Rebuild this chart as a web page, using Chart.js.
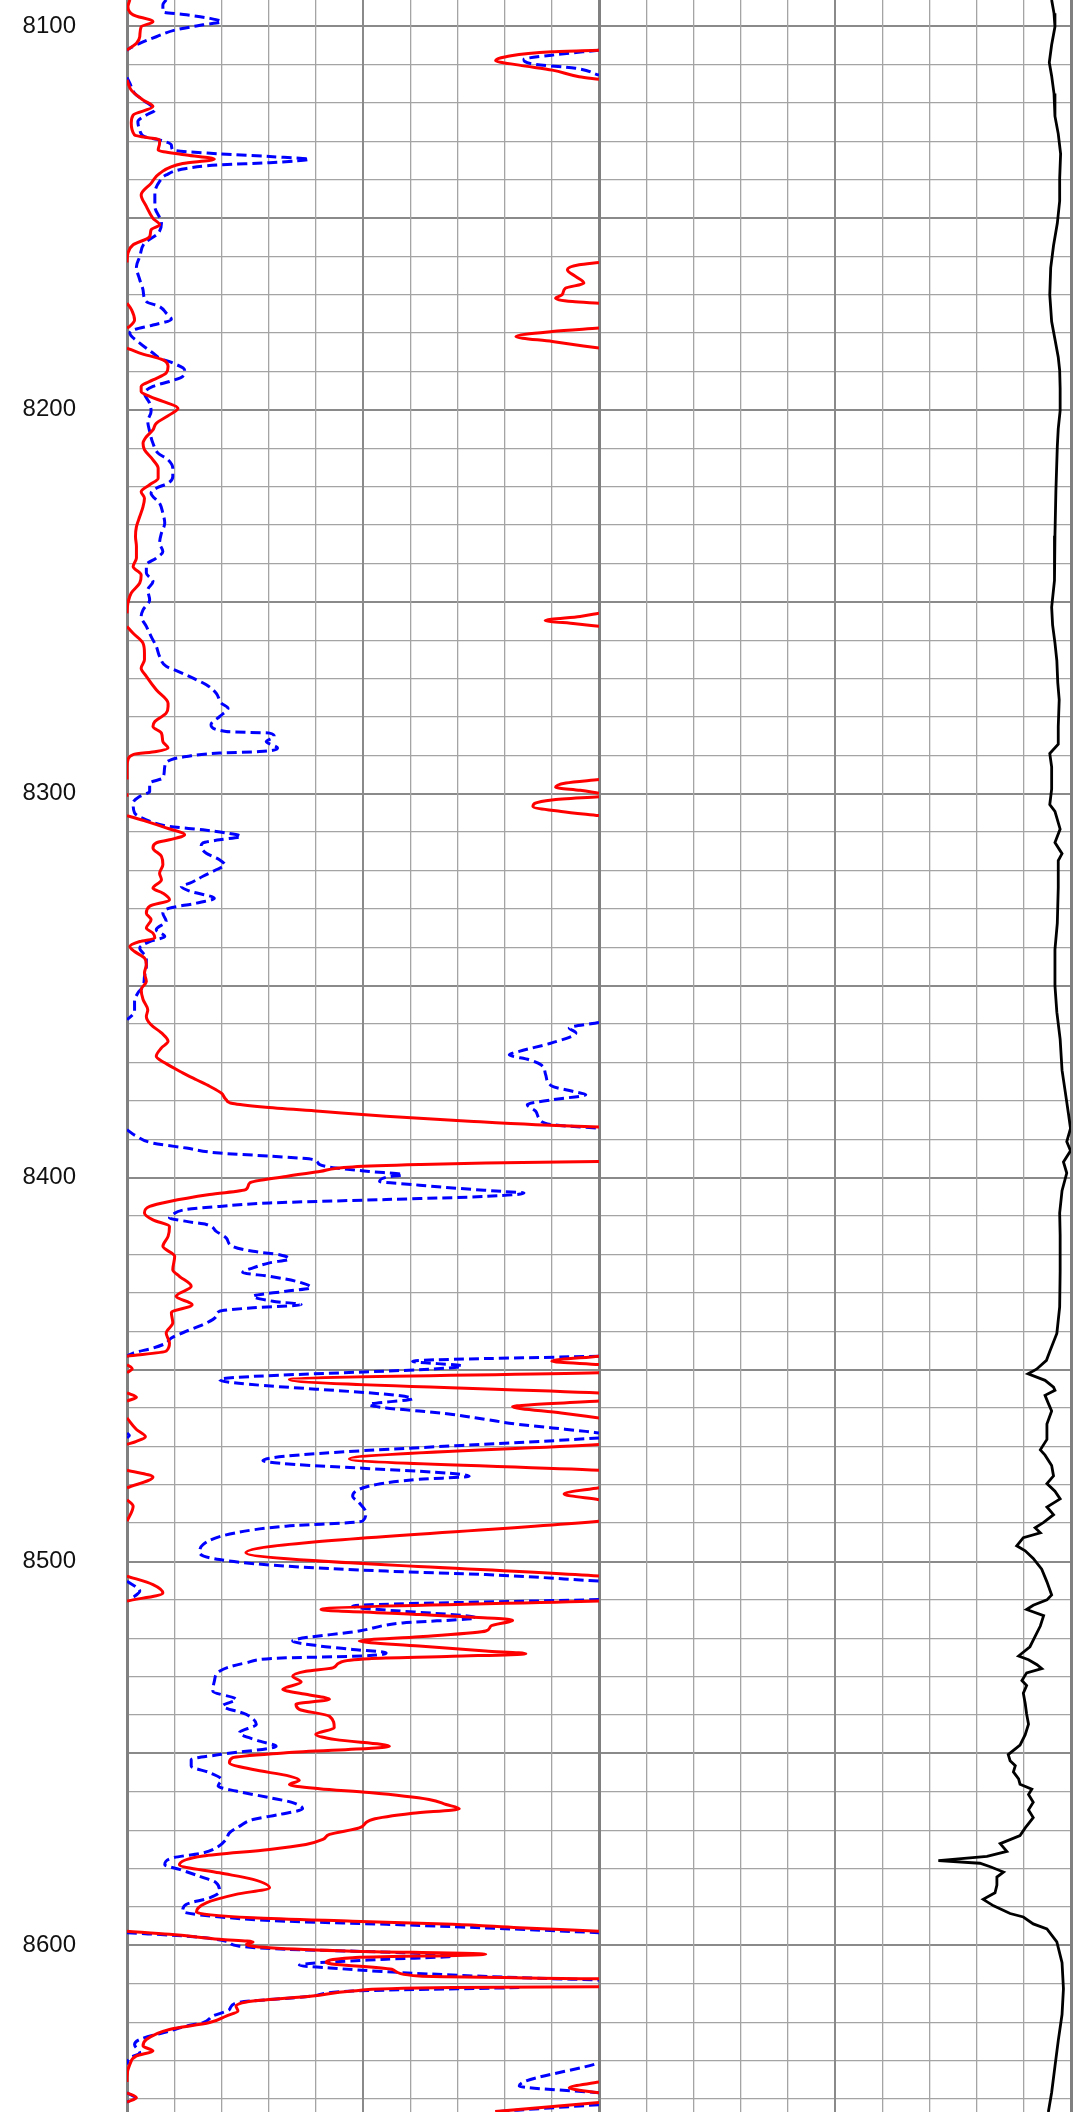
<!DOCTYPE html>
<html>
<head>
<meta charset="utf-8">
<title>Registro de pozo</title>
<script src="https://cdn.jsdelivr.net/npm/chart.js@4.4.0/dist/chart.umd.min.js"></script>
<style>
  html, body { margin: 0; padding: 0; background: #ffffff; }
  #registro { display: block; }
</style>
</head>
<body>
<canvas id="registro" width="1087" height="2112"></canvas>
<script>
// ============================================================
// Registro de pozo: profundidad vertical, dos pistas
// - Pista 1: curva roja (sólida) + curva azul (punteada), con retorno
// - Pista 2: curva negra
// Valores en divisiones de la pista (0-10). null = corte de la línea
// ============================================================

// ===== Eje de profundidad =====
const PROF_TOPE = 8093.23;
const PROF_BASE = 8643.4; // no múltiplo exacto del paso: así los ticks caen en 8100, 8110...
const PASO_PROF = 10;
const etiquetasProf = [8100, 8200, 8300, 8400, 8500, 8600];

// ===== Escala de las pistas =====
const PISTA_MIN = 0;
const PISTA_MAX = 10;

// ===== Curva roja (pista 1) [profundidad, valor] =====
const curvaRoja = [
  [8093.2, 0.06], [8095.0, 0.02], [8097.1, 0.13], [8098.9, 0.55], [8100.2, 0.30],
  [8102.8, 0.27], [8104.5, 0.20], [8106.3, 0.00], [8106.3, null],
  [8106.3, 10.0], [8106.7, 9.01], [8108.0, 8.03], [8109.0, 7.81], [8110.2, 8.31],
  [8111.5, 9.01], [8113.2, 9.58], [8113.9, 10.0], [8113.9, null],
  [8114.0, 0.00], [8116.7, 0.09], [8119.3, 0.34], [8121.0, 0.55], [8123.2, 0.13],
  [8125.3, 0.09], [8128.4, 0.16], [8129.7, 0.69], [8130.6, 0.69], [8132.3, 0.66],
  [8133.6, 1.26], [8134.7, 1.85], [8135.8, 1.18], [8138.4, 0.69], [8141.0, 0.51],
  [8144.0, 0.30], [8147.0, 0.41], [8150.1, 0.55], [8151.8, 0.69], [8153.1, 0.51],
  [8154.9, 0.48], [8157.0, 0.13], [8159.2, 0.02], [8161.6, 0.00], [8161.6, null],
  [8161.6, 10.0], [8162.2, 9.58], [8163.5, 9.33], [8165.3, 9.51], [8167.0, 9.68],
  [8168.3, 9.29], [8170.0, 9.22], [8170.9, 9.08], [8171.8, 9.44], [8172.2, 10.0], [8172.2, null],
  [8172.2, 0.00], [8174.0, 0.10], [8176.6, 0.16], [8178.3, 0.05], [8178.7, 0.00], [8178.7, null],
  [8178.7, 10.0], [8179.6, 9.01], [8180.9, 8.24], [8182.2, 9.01], [8183.9, 10.0], [8183.9, null],
  [8183.9, 0.00], [8185.2, 0.27], [8187.0, 0.76], [8188.7, 0.87], [8190.4, 0.83],
  [8192.2, 0.55], [8193.9, 0.30], [8195.2, 0.30], [8196.5, 0.48], [8197.8, 0.76],
  [8199.6, 1.08], [8201.3, 0.90], [8203.5, 0.62], [8205.2, 0.55], [8207.0, 0.41],
  [8208.7, 0.34], [8210.4, 0.37], [8213.0, 0.55], [8215.2, 0.66], [8217.8, 0.66],
  [8219.5, 0.48], [8221.3, 0.30], [8223.0, 0.37], [8225.2, 0.34], [8227.8, 0.27],
  [8230.4, 0.20], [8233.0, 0.18], [8235.6, 0.20], [8238.6, 0.20], [8240.8, 0.13],
  [8243.0, 0.30], [8245.1, 0.27], [8247.7, 0.09], [8250.3, 0.02], [8253.0, 0.00], [8253.0, null],
  [8253.0, 10.0], [8253.8, 9.60], [8254.9, 8.86], [8255.7, 9.50], [8256.4, 10.0], [8256.4, null],
  [8256.4, 0.00], [8258.2, 0.13], [8260.8, 0.34], [8263.4, 0.37], [8265.1, 0.37],
  [8267.3, 0.30], [8269.4, 0.41], [8272.9, 0.62], [8276.4, 0.87], [8277.3, 0.87],
  [8279.0, 0.83], [8281.2, 0.59], [8282.5, 0.55], [8284.2, 0.73], [8286.4, 0.76],
  [8288.1, 0.87], [8289.0, 0.62], [8289.8, 0.13], [8291.2, 0.02], [8292.9, 0.00],
  [8296.3, 0.00], [8296.3, null],
  [8296.3, 10.0], [8297.2, 9.30], [8298.3, 9.08], [8299.1, 9.60], [8299.9, 10.0], [8299.9, null],
  [8299.9, 0.00], [8300.8, 0.00], [8300.8, null],
  [8300.8, 10.0], [8301.6, 9.00], [8303.3, 8.60], [8304.6, 9.20], [8305.7, 10.0], [8305.7, null],
  [8305.7, 0.00], [8307.2, 0.41], [8308.9, 0.83], [8310.7, 1.22], [8312.0, 0.90],
  [8312.8, 0.62], [8314.1, 0.55], [8316.3, 0.73], [8318.5, 0.76], [8320.7, 0.69],
  [8322.4, 0.73], [8324.6, 0.55], [8325.9, 0.76], [8327.6, 0.90], [8329.3, 0.48],
  [8331.1, 0.41], [8332.8, 0.51], [8335.0, 0.41], [8336.3, 0.55], [8337.6, 0.59],
  [8338.5, 0.27], [8339.8, 0.06], [8341.1, 0.16], [8342.8, 0.37], [8344.5, 0.41],
  [8346.7, 0.37], [8348.9, 0.41], [8351.0, 0.30], [8353.6, 0.34], [8356.3, 0.44],
  [8358.0, 0.41], [8360.2, 0.51], [8362.3, 0.73], [8364.5, 0.87], [8366.2, 0.73],
  [8368.4, 0.62], [8370.1, 0.80], [8372.7, 1.18], [8374.5, 1.47], [8376.2, 1.75],
  [8378.0, 2.00], [8379.7, 2.10], [8380.7, 2.24], [8381.6, 2.88], [8382.7, 4.08],
  [8384.0, 5.49], [8385.3, 7.25], [8386.2, 8.66], [8386.8, 10.0], [8386.8, null],
  [8395.8, 10.0], [8396.2, 7.60], [8396.6, 6.19], [8397.2, 4.78], [8398.4, 4.08],
  [8399.7, 3.37], [8401.4, 2.60], [8403.1, 2.52], [8404.4, 1.75], [8406.2, 0.90],
  [8407.5, 0.48], [8409.2, 0.37], [8411.0, 0.55], [8412.7, 0.90], [8415.3, 0.87],
  [8417.9, 0.76], [8420.5, 1.01], [8424.0, 0.97], [8425.7, 1.11], [8428.3, 1.36],
  [8430.9, 1.04], [8433.1, 1.38], [8435.2, 0.94], [8437.8, 0.97], [8440.5, 0.83],
  [8443.1, 0.90], [8445.2, 0.83], [8446.5, 0.00], [8446.5, null],
  [8446.5, 10.0], [8447.8, 9.00], [8448.7, 10.0], [8448.7, null],
  [8448.7, 0.00], [8449.8, 0.11], [8450.8, 0.00], [8450.8, null],
  [8450.8, 10.0], [8452.6, 3.44], [8456.1, 10.0], [8456.1, null],
  [8456.1, 0.00], [8457.2, 0.20], [8458.2, 0.00], [8458.2, null],
  [8458.2, 10.0], [8459.7, 8.17], [8461.3, 9.20], [8462.6, 10.0], [8462.6, null],
  [8462.6, 0.00], [8465.6, 0.20], [8467.5, 0.39], [8468.7, 0.20], [8469.5, 0.00], [8469.5, null],
  [8469.5, 10.0], [8473.3, 4.71], [8476.2, 10.0], [8476.2, null],
  [8476.2, 0.00], [8478.0, 0.55], [8480.8, 0.00], [8480.8, null],
  [8480.8, 10.0], [8482.4, 9.26], [8483.9, 10.0], [8483.9, null],
  [8483.9, 0.00], [8485.6, 0.13], [8489.5, 0.00], [8489.5, null],
  [8489.5, 10.0], [8497.7, 2.52], [8503.8, 10.0], [8503.8, null],
  [8503.8, 0.00], [8506.0, 0.55], [8508.2, 0.76], [8510.3, 0.00], [8510.3, null],
  [8510.3, 10.0], [8512.5, 4.11], [8513.8, 6.19], [8515.3, 8.17], [8516.8, 7.71],
  [8518.1, 7.60], [8519.6, 6.19], [8520.7, 4.92], [8522.0, 6.19], [8523.3, 7.60],
  [8524.0, 8.45], [8524.7, 6.90], [8525.3, 5.13], [8526.4, 4.50], [8527.7, 4.36],
  [8528.6, 3.79], [8529.9, 3.51], [8531.4, 3.69], [8533.3, 3.30], [8534.6, 3.79],
  [8535.9, 4.29], [8537.2, 3.58], [8538.5, 3.65], [8540.3, 4.29], [8543.3, 4.39],
  [8545.0, 4.00], [8546.4, 4.43], [8548.1, 5.56], [8549.8, 3.37], [8551.1, 2.24],
  [8552.4, 2.17], [8554.2, 2.67], [8555.9, 3.44], [8557.0, 3.65], [8558.1, 3.44],
  [8559.2, 4.08], [8560.2, 5.13], [8562.0, 6.40], [8563.3, 6.76], [8564.4, 7.04],
  [8565.6, 6.05], [8567.2, 5.20], [8569.4, 4.92], [8571.1, 4.29], [8572.4, 4.15],
  [8573.7, 3.79], [8575.0, 3.02], [8576.7, 1.61], [8579.0, 1.11], [8581.1, 1.96],
  [8582.8, 2.67], [8585.0, 3.02], [8586.7, 2.31], [8588.9, 1.68], [8591.3, 1.47],
  [8592.8, 2.67], [8593.7, 4.78], [8594.5, 6.90], [8595.4, 8.31], [8596.3, 10.0], [8596.3, null],
  [8596.3, 0.00], [8597.1, 0.90], [8598.4, 1.96], [8599.1, 2.67], [8599.7, 2.53],
  [8600.6, 3.02], [8601.5, 4.78], [8602.3, 7.60], [8603.2, 4.78], [8604.5, 4.22],
  [8606.3, 5.63], [8608.0, 6.19], [8608.7, 10.0], [8608.7, null],
  [8610.8, 10.0], [8611.0, 6.90], [8611.9, 4.78], [8613.2, 3.93], [8614.5, 2.67],
  [8615.8, 2.31], [8617.1, 2.35], [8618.4, 2.10], [8620.1, 1.75], [8621.9, 0.90],
  [8624.5, 0.41], [8626.2, 0.34], [8627.5, 0.55], [8628.8, 0.20], [8631.0, 0.06],
  [8634.5, 0.00], [8635.6, 0.00], [8635.6, null],
  [8635.6, 10.0], [8637.1, 9.37], [8638.4, 10.0], [8638.4, null],
  [8638.4, 0.00], [8639.7, 0.20], [8640.8, 0.00], [8640.8, null],
  [8640.9, 10.0], [8643.3, 7.80]
];

// ===== Curva azul punteada (pista 1) [profundidad, valor] =====
const curvaAzul = [
  [8093.2, 0.83], [8094.5, 0.76], [8096.3, 0.76], [8097.1, 1.26], [8098.0, 1.75],
  [8098.9, 2.00], [8099.7, 1.61], [8101.0, 1.04], [8102.8, 0.62], [8104.5, 0.27],
  [8105.8, 0.06], [8106.3, 0.00], [8106.3, null],
  [8106.3, 10.0], [8107.6, 9.00], [8108.7, 8.41], [8109.9, 8.60], [8111.0, 9.50],
  [8112.8, 10.0], [8112.8, null],
  [8113.4, 0.00], [8114.9, 0.06], [8117.5, 0.16], [8119.3, 0.34], [8121.9, 0.59],
  [8123.2, 0.41], [8124.9, 0.23], [8127.1, 0.27], [8128.8, 0.37], [8129.7, 0.69],
  [8131.0, 0.94], [8132.3, 0.97], [8133.3, 1.96], [8134.0, 3.02], [8134.7, 3.86],
  [8135.6, 3.02], [8136.2, 1.96], [8137.1, 1.26], [8138.8, 0.83], [8140.5, 0.69],
  [8143.6, 0.59], [8147.0, 0.59], [8151.4, 0.73], [8154.0, 0.66], [8156.6, 0.37],
  [8160.1, 0.27], [8162.7, 0.20], [8166.1, 0.27], [8168.8, 0.34], [8171.8, 0.41],
  [8173.1, 0.69], [8174.8, 0.83], [8176.4, 0.94], [8177.9, 0.55], [8179.2, 0.13],
  [8180.0, 0.06], [8182.6, 0.27], [8185.2, 0.55], [8186.5, 0.69], [8187.8, 0.97],
  [8189.6, 1.22], [8191.3, 1.18], [8192.6, 0.90], [8193.9, 0.55], [8195.7, 0.37],
  [8198.3, 0.48], [8200.4, 0.51], [8203.0, 0.44], [8205.6, 0.48], [8208.7, 0.55],
  [8211.3, 0.66], [8213.0, 0.87], [8215.2, 0.97], [8217.4, 0.97], [8219.1, 0.87],
  [8220.4, 0.62], [8221.7, 0.51], [8224.3, 0.69], [8226.9, 0.76], [8229.5, 0.80],
  [8232.1, 0.73], [8234.7, 0.69], [8236.9, 0.76], [8238.6, 0.62], [8240.4, 0.41],
  [8242.5, 0.41], [8244.7, 0.55], [8246.9, 0.44], [8249.5, 0.48], [8252.1, 0.34],
  [8253.8, 0.30], [8256.4, 0.41], [8259.0, 0.51], [8261.6, 0.62], [8264.2, 0.69],
  [8266.8, 0.83], [8268.1, 1.08], [8269.9, 1.40], [8271.6, 1.68], [8273.8, 1.89],
  [8276.4, 2.00], [8277.7, 2.14], [8279.9, 1.96], [8282.0, 1.78], [8283.8, 2.10],
  [8284.2, 3.02], [8285.1, 3.12], [8286.4, 2.95], [8288.1, 3.19], [8289.0, 2.81],
  [8289.4, 1.96], [8290.3, 1.26], [8291.1, 0.94], [8292.9, 0.80], [8295.9, 0.76],
  [8297.2, 0.48], [8299.4, 0.48], [8300.7, 0.27], [8302.4, 0.13], [8305.0, 0.16],
  [8306.8, 0.41], [8308.5, 0.90], [8309.4, 1.61], [8310.2, 2.10], [8311.1, 2.42],
  [8312.0, 1.96], [8312.8, 1.61], [8313.7, 1.57], [8315.5, 1.68], [8317.2, 1.96],
  [8318.5, 2.07], [8319.8, 1.89], [8321.5, 1.61], [8323.3, 1.33], [8324.1, 1.15],
  [8325.4, 1.33], [8327.2, 1.85], [8328.5, 1.47], [8329.8, 0.90], [8331.1, 0.76],
  [8333.2, 0.83], [8335.4, 0.62], [8337.2, 0.80], [8338.5, 0.48], [8340.2, 0.27],
  [8342.8, 0.41], [8345.0, 0.41], [8347.6, 0.37], [8350.2, 0.34], [8351.9, 0.23],
  [8354.1, 0.16], [8356.7, 0.16], [8358.9, 0.00], [8358.9, null],
  [8359.6, 10.0], [8361.0, 9.37], [8362.3, 9.51], [8364.9, 9.00], [8367.1, 8.31],
  [8368.0, 8.10], [8369.3, 8.52], [8370.6, 8.77], [8373.2, 8.87], [8376.2, 9.01],
  [8377.5, 9.44], [8378.4, 9.72], [8379.7, 9.01], [8381.0, 8.48], [8382.7, 8.66],
  [8384.5, 8.73], [8386.2, 9.01], [8387.1, 10.0], [8387.1, null],
  [8387.5, 0.00], [8389.2, 0.20], [8391.0, 0.55], [8392.3, 1.26], [8393.6, 1.96],
  [8394.4, 3.02], [8395.3, 3.94], [8396.6, 4.08], [8397.5, 4.43], [8398.4, 5.13],
  [8399.2, 5.84], [8399.9, 5.49], [8401.0, 5.35], [8401.8, 6.05], [8402.7, 6.90],
  [8403.6, 7.95], [8404.0, 8.41], [8404.9, 7.60], [8405.7, 5.49], [8406.6, 3.02],
  [8407.5, 1.96], [8408.3, 1.26], [8409.6, 0.97], [8410.5, 0.90], [8411.4, 1.26],
  [8412.2, 1.68], [8414.0, 1.89], [8415.7, 2.10], [8417.9, 2.24], [8419.2, 2.67],
  [8420.1, 3.23], [8421.2, 3.44], [8422.2, 3.02], [8423.5, 2.67], [8424.7, 2.45],
  [8425.7, 3.02], [8427.0, 3.58], [8428.7, 3.90], [8429.6, 3.37], [8430.9, 2.67],
  [8432.2, 3.09], [8433.1, 3.69], [8433.9, 2.67], [8434.8, 1.96], [8436.1, 1.89],
  [8438.3, 1.61], [8440.0, 1.26], [8441.8, 0.94], [8443.1, 0.83], [8444.4, 0.55],
  [8445.7, 0.13], [8446.5, 0.00], [8446.5, null],
  [8446.5, 10.0], [8447.8, 6.05], [8449.1, 7.10], [8452.6, 1.96], [8457.6, 6.05],
  [8459.1, 5.13], [8460.0, 5.49], [8460.8, 6.19], [8461.7, 6.90], [8463.0, 7.60],
  [8464.3, 8.31], [8465.2, 9.01], [8466.1, 9.72], [8466.5, 10.0], [8466.5, null],
  [8466.5, 0.00], [8467.2, 0.05], [8467.8, 0.00], [8467.8, null],
  [8467.8, 10.0], [8473.7, 2.88], [8477.8, 7.25], [8478.6, 6.19], [8479.9, 5.30],
  [8483.0, 4.78], [8484.7, 4.92], [8487.3, 5.06], [8489.5, 4.99], [8490.8, 3.37],
  [8492.5, 2.31], [8495.6, 1.61], [8497.7, 1.54], [8499.5, 1.96], [8501.2, 3.37],
  [8502.5, 5.49], [8503.4, 7.60], [8505.1, 10.0], [8505.1, null],
  [8505.1, 0.00], [8507.7, 0.27], [8509.9, 0.06], [8509.9, null],
  [8509.9, 10.0], [8511.6, 4.78], [8514.7, 7.39], [8516.0, 5.84], [8518.1, 4.92],
  [8520.7, 3.51], [8522.0, 4.08], [8522.9, 4.78], [8523.8, 5.49], [8524.7, 4.78],
  [8525.1, 3.37], [8526.4, 2.52], [8528.6, 1.96], [8531.2, 1.85], [8533.8, 1.82],
  [8535.9, 2.31], [8537.6, 2.03], [8539.8, 2.52], [8542.4, 2.74], [8544.6, 2.38],
  [8546.8, 2.81], [8548.1, 3.16], [8550.3, 1.96], [8551.6, 1.36], [8553.3, 1.36],
  [8555.0, 1.75], [8556.8, 2.00], [8558.5, 1.93], [8559.8, 2.31], [8561.5, 3.02],
  [8562.8, 3.51], [8564.4, 3.72], [8565.9, 3.23], [8567.2, 2.67], [8569.0, 2.38],
  [8570.7, 2.17], [8572.4, 2.10], [8574.6, 1.89], [8575.9, 1.61], [8577.2, 0.97],
  [8579.0, 0.80], [8580.2, 1.11], [8582.0, 1.54], [8583.7, 1.89], [8585.9, 1.96],
  [8587.6, 1.75], [8589.3, 1.26], [8591.1, 1.18], [8592.4, 1.82], [8593.7, 3.37],
  [8594.5, 5.49], [8595.8, 8.31], [8596.7, 10.0], [8596.7, null],
  [8596.7, 0.00], [8597.6, 1.26], [8598.9, 2.10], [8600.2, 2.38], [8601.0, 3.37],
  [8601.9, 5.84], [8602.8, 6.90], [8603.6, 5.49], [8604.5, 4.08], [8605.2, 3.65],
  [8605.8, 4.22], [8607.1, 5.84], [8608.4, 8.31], [8609.0, 10.0], [8609.0, null],
  [8611.0, 8.31], [8611.9, 4.78], [8613.2, 3.93], [8615.0, 2.31], [8616.7, 2.17],
  [8618.4, 1.82], [8620.1, 1.61], [8621.0, 1.26], [8622.3, 0.90], [8624.5, 0.27],
  [8625.8, 0.16], [8628.0, 0.27], [8629.3, 0.06], [8631.0, 0.00], [8631.0, null],
  [8631.0, 9.90], [8636.6, 8.31], [8638.4, 10.0], [8638.4, null],
  [8638.4, 0.00], [8639.7, 0.16], [8640.8, 0.00], [8640.8, null],
  [8641.5, 10.0], [8643.3, 7.81]
];

// ===== Curva negra (pista 2) [profundidad, valor] =====
const curvaNegra = [
  [8093.2, 9.59], [8096.7, 9.64], [8100.2, 9.66], [8104.9, 9.59], [8109.5, 9.54],
  [8113.0, 9.59], [8117.6, 9.64], [8123.5, 9.66], [8128.1, 9.73], [8133.3, 9.78],
  [8139.7, 9.76], [8145.6, 9.76], [8151.4, 9.71], [8157.2, 9.63], [8163.0, 9.57],
  [8170.0, 9.55], [8177.0, 9.59], [8181.6, 9.66], [8186.3, 9.73], [8189.7, 9.76],
  [8194.4, 9.77], [8200.2, 9.77], [8204.9, 9.73], [8209.5, 9.71], [8221.1, 9.68],
  [8232.8, 9.66], [8244.4, 9.65], [8251.4, 9.59], [8256.0, 9.61], [8260.7, 9.66],
  [8265.3, 9.70], [8271.1, 9.72], [8275.5, 9.75], [8282.5, 9.73], [8287.1, 9.73],
  [8289.5, 9.55], [8293.0, 9.59], [8298.8, 9.59], [8302.8, 9.55], [8304.6, 9.66],
  [8309.2, 9.77], [8312.7, 9.66], [8315.6, 9.81], [8317.4, 9.73], [8324.4, 9.73],
  [8333.7, 9.71], [8340.6, 9.66], [8350.0, 9.66], [8356.9, 9.70], [8363.9, 9.77],
  [8372.0, 9.81], [8377.8, 9.88], [8383.7, 9.95], [8387.2, 9.99], [8390.6, 9.91],
  [8393.0, 9.99], [8395.9, 9.84], [8398.8, 9.91], [8403.4, 9.81], [8409.2, 9.76],
  [8415.0, 9.77], [8424.4, 9.77], [8433.7, 9.76], [8440.6, 9.70], [8445.3, 9.55],
  [8447.6, 9.48], [8449.9, 9.27], [8451.1, 9.09], [8452.8, 9.45], [8454.6, 9.63],
  [8455.4, 9.66], [8456.7, 9.45], [8458.8, 9.52], [8460.8, 9.59], [8464.2, 9.49],
  [8468.2, 9.49], [8470.9, 9.35], [8472.3, 9.45], [8475.0, 9.59], [8477.7, 9.63],
  [8479.7, 9.49], [8481.7, 9.66], [8483.7, 9.77], [8485.8, 9.49], [8487.8, 9.63],
  [8489.8, 9.42], [8491.2, 9.24], [8492.5, 9.35], [8493.8, 8.99], [8495.9, 8.85],
  [8497.2, 9.03], [8499.2, 9.20], [8502.0, 9.38], [8505.3, 9.49], [8508.7, 9.59],
  [8510.0, 9.49], [8511.4, 9.20], [8512.5, 9.06], [8514.1, 9.42], [8516.8, 9.35],
  [8519.5, 9.24], [8522.2, 9.13], [8524.6, 8.89], [8525.6, 9.10], [8526.9, 9.28],
  [8527.9, 9.38], [8529.0, 9.06], [8531.0, 8.96], [8532.3, 9.06], [8534.3, 8.99],
  [8537.0, 9.03], [8539.7, 9.06], [8542.4, 9.10], [8545.1, 9.03], [8547.8, 8.92],
  [8550.3, 8.67], [8551.9, 8.71], [8553.2, 8.82], [8554.8, 8.78], [8556.6, 8.89],
  [8558.0, 8.92], [8559.3, 9.17], [8560.7, 9.10], [8562.7, 9.20], [8564.7, 9.10],
  [8566.7, 9.20], [8569.4, 9.03], [8571.4, 8.92], [8573.5, 8.50], [8575.5, 8.64],
  [8576.8, 8.22], [8577.9, 7.19], [8578.6, 8.07], [8579.5, 8.29], [8580.9, 8.57],
  [8582.2, 8.43], [8584.3, 8.43], [8586.3, 8.39], [8588.0, 8.14], [8589.7, 8.36],
  [8591.7, 8.71], [8592.6, 8.99], [8594.4, 9.20], [8595.7, 9.49], [8599.1, 9.70],
  [8604.5, 9.81], [8611.3, 9.84], [8618.0, 9.81], [8624.8, 9.73], [8631.5, 9.66],
  [8638.3, 9.59], [8643.4, 9.52]
];

(function () {
  "use strict";

  // ===== Utilidades =====
  function aPuntos(curva) {
    return curva.map(([prof, valor]) => ({ x: valor, y: prof }));
  }

  // Rejilla de profundidad: cada 10 pies, más marcada cada 50
  function colorRejillaProf(ctx) {
    const v = ctx.tick ? ctx.tick.value : 0;
    return v % 50 === 0 ? "#8a8a8a" : "#a4a4a4";
  }
  function anchoRejillaProf(ctx) {
    const v = ctx.tick ? ctx.tick.value : 0;
    return v % 50 === 0 ? 2 : 1.3;
  }

  // Rejilla vertical de pista: bordes y centro más marcados
  function colorRejillaPista(ctx) {
    const v = ctx.tick ? ctx.tick.value : 0;
    if (v === PISTA_MIN || v === PISTA_MAX) return "#808080";
    if (v === (PISTA_MIN + PISTA_MAX) / 2) return "#8a8a8a";
    return "#a4a4a4";
  }
  function anchoRejillaPista(ctx) {
    const v = ctx.tick ? ctx.tick.value : 0;
    if (v === PISTA_MIN || v === PISTA_MAX) return 3;
    if (v === (PISTA_MIN + PISTA_MAX) / 2) return 2;
    return 1.3;
  }

  function escalaPista() {
    return {
      type: "linear",
      axis: "x",
      position: "bottom",
      stack: "pistas",
      stackWeight: 1,
      min: PISTA_MIN,
      max: PISTA_MAX,
      ticks: { display: false, stepSize: 1 },
      grid: {
        drawTicks: false,
        color: colorRejillaPista,
        lineWidth: anchoRejillaPista,
      },
      border: { display: false },
      afterFit: (s) => {
        s.height = 0;
        s.paddingLeft = 0;
        s.paddingRight = 0;
      },
    };
  }

  function curva(label, datos, eje, color, extra) {
    return Object.assign(
      {
        label: label,
        data: aPuntos(datos),
        xAxisID: eje,
        yAxisID: "y",
        borderColor: color,
        borderWidth: 3,
        pointRadius: 0,
        spanGaps: false,
        fill: false,
      },
      extra || {},
    );
  }

  const ctx = document.getElementById("registro").getContext("2d");

  new Chart(ctx, {
    type: "line",
    data: {
      datasets: [
        curva("Roja", curvaRoja, "x1", "#ff0000", { cubicInterpolationMode: "monotone" }),
        curva("Azul", curvaAzul, "x1", "#0000ff", {
          cubicInterpolationMode: "monotone",
          borderDash: [10, 5],
        }),
        curva("Negra", curvaNegra, "x2", "#000000", { tension: 0, borderWidth: 2.8 }),
      ],
    },
    options: {
      indexAxis: "y",
      responsive: false,
      animation: false,
      devicePixelRatio: 1,
      layout: { padding: { left: 0, right: 16, top: 0, bottom: 0 } },
      plugins: {
        legend: { display: false },
        tooltip: { enabled: false },
      },
      scales: {
        y: {
          type: "linear",
          axis: "y",
          position: "left",
          reverse: true,
          min: PROF_TOPE,
          max: PROF_BASE,
          ticks: {
            stepSize: PASO_PROF,
            includeBounds: false,
            autoSkip: false,
            padding: 51,
            color: "#111111",
            font: { family: "'Liberation Sans', Arial, sans-serif", size: 24 },
            callback: (v) => (etiquetasProf.includes(v) ? String(v) : ""),
          },
          grid: {
            drawTicks: false,
            color: colorRejillaProf,
            lineWidth: anchoRejillaProf,
          },
          border: { display: false },
          afterFit: (s) => {
            s.width = 127;
            s.paddingTop = 0;
            s.paddingBottom = 0;
          },
        },
        x1: escalaPista(),
        x2: escalaPista(),
      },
    },
  });
})();
</script>
</body>
</html>
